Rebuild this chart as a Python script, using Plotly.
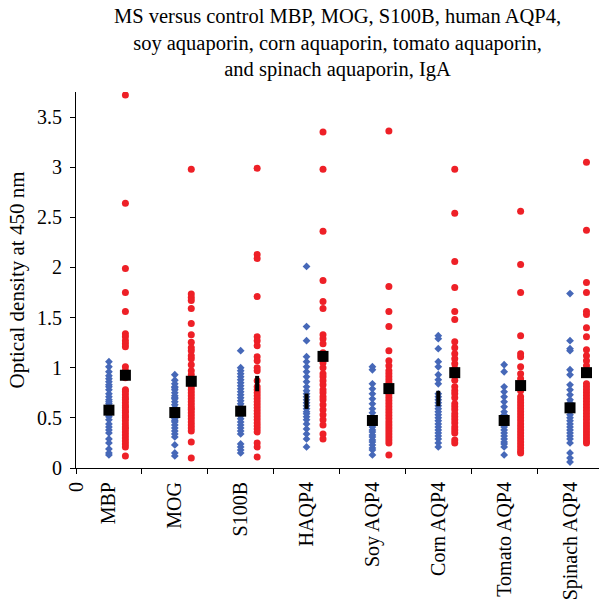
import plotly.graph_objects as go

categories = ["MBP", "MOG", "S100B", "HAQP4", "Soy AQP4", "Corn AQP4", "Tomato AQP4", "Spinach AQP4"]

control = [
    [1.06,1.01,0.96,0.92,0.89,0.86,0.83,0.81,0.78,0.74,0.71,0.68,0.66,0.64,0.61,0.58,0.55,0.53,0.51,0.48,0.44,0.41,0.38,0.35,0.29,0.25,0.19,0.15,0.13],
    [0.93,0.875,0.84,0.81,0.80,0.78,0.75,0.72,0.70,0.69,0.66,0.63,0.60,0.58,0.57,0.55,0.52,0.49,0.47,0.46,0.43,0.40,0.37,0.34,0.31,0.23,0.15,0.12],
    [1.17,1.00,0.97,0.94,0.91,0.88,0.85,0.82,0.79,0.76,0.73,0.70,0.67,0.64,0.61,0.58,0.55,0.52,0.49,0.46,0.43,0.40,0.37,0.34,0.24,0.21,0.18,0.15],
    [2.01,1.41,1.27,1.11,1.06,1.01,0.96,0.91,0.86,0.81,0.77,0.74,0.71,0.68,0.65,0.62,0.59,0.56,0.54,0.51,0.48,0.44,0.39,0.34,0.29,0.21],
    [1.01,0.98,0.84,0.79,0.74,0.69,0.64,0.59,0.55,0.51,0.48,0.46,0.43,0.41,0.38,0.36,0.33,0.31,0.28,0.26,0.23,0.20,0.18,0.13],
    [1.32,1.29,1.19,1.06,1.01,0.93,0.88,0.84,0.74,0.71,0.68,0.65,0.62,0.59,0.56,0.53,0.50,0.47,0.44,0.41,0.38,0.35,0.32,0.29,0.25,0.21],
    [1.03,0.96,0.81,0.76,0.71,0.66,0.61,0.56,0.53,0.50,0.47,0.44,0.41,0.38,0.35,0.32,0.29,0.26,0.24,0.21,0.13],
    [1.74,1.27,1.19,1.17,0.98,0.93,0.83,0.78,0.73,0.68,0.65,0.62,0.59,0.56,0.53,0.50,0.47,0.44,0.41,0.38,0.35,0.32,0.29,0.25,0.15,0.10,0.06],
]

ms = [
    [3.72,2.64,1.99,1.75,1.56,1.34,1.31,1.27,1.24,1.21,1.01,0.97,0.93,0.90,0.78,0.76,0.73,0.70,0.68,0.65,0.62,0.60,0.57,0.55,0.52,0.50,0.47,0.44,0.41,0.39,0.36,0.33,0.30,0.27,0.24,0.21,0.12],
    [2.98,1.735,1.70,1.67,1.59,1.44,1.33,1.255,1.20,1.17,1.12,1.09,1.03,0.97,0.93,0.84,0.81,0.78,0.75,0.72,0.69,0.66,0.63,0.60,0.58,0.55,0.52,0.49,0.46,0.43,0.40,0.37,0.26,0.10],
    [2.99,2.13,2.09,1.71,1.31,1.27,1.22,1.11,1.07,1.00,0.97,0.87,0.81,0.78,0.75,0.72,0.69,0.66,0.63,0.60,0.57,0.54,0.51,0.48,0.45,0.42,0.39,0.36,0.25,0.21,0.11],
    [3.35,2.98,2.36,1.87,1.66,1.59,1.33,1.29,1.24,1.15,1.05,1.00,0.94,0.91,0.87,0.83,0.78,0.75,0.71,0.68,0.63,0.58,0.53,0.48,0.43,0.34,0.29],
    [3.36,1.81,1.56,1.41,1.17,1.07,1.02,0.97,0.94,0.91,0.88,0.85,0.82,0.79,0.76,0.73,0.70,0.67,0.64,0.61,0.58,0.55,0.52,0.49,0.46,0.43,0.40,0.37,0.34,0.31,0.28,0.25,0.13],
    [2.98,2.54,2.06,1.80,1.56,1.48,1.26,1.20,1.14,1.09,1.04,0.99,0.875,0.81,0.77,0.74,0.70,0.64,0.61,0.58,0.54,0.51,0.48,0.45,0.41,0.38,0.35,0.28,0.25],
    [2.56,2.03,1.75,1.32,1.14,1.11,1.01,0.94,0.89,0.84,0.77,0.71,0.68,0.65,0.62,0.59,0.56,0.53,0.50,0.47,0.44,0.41,0.38,0.35,0.32,0.29,0.26,0.23,0.20,0.17,0.15],
    [3.05,2.37,1.85,1.75,1.56,1.53,1.40,1.31,1.18,1.12,1.07,1.02,0.84,0.81,0.78,0.75,0.72,0.69,0.66,0.63,0.60,0.57,0.54,0.51,0.48,0.45,0.42,0.39,0.36,0.33,0.30,0.27,0.25],
]

control_mean = [0.577, 0.553, 0.567, 0.666, 0.474, 0.693, 0.474, 0.600]
ms_mean = [0.925, 0.865, 0.842, 1.113, 0.792, 0.951, 0.822, 0.951]
# means partly covered by the dots in the original (drawn as narrow bars)
control_mean_covered = [False, False, False, True, False, True, False, False]
ms_mean_covered = [False, False, True, False, False, False, False, False]

y_ticks = [0, 0.5, 1, 1.5, 2, 2.5, 3, 3.5]

CTRL_OFF = 0.5
MS_OFF = 0.75
BLUE = "#4668B8"
RED = "#EE2027"
FONT = "Liberation Serif"

W, H = 599, 607
ML, MR, MT, MB = 76, 0, 92, 139
PLOT_H = H - MT - MB

cx, cy, mx, my = [], [], [], []
for i, vals in enumerate(control):
    cx += [i + CTRL_OFF] * len(vals)
    cy += vals
for i, vals in enumerate(ms):
    mx += [i + MS_OFF] * len(vals)
    my += vals

fig = go.Figure()
fig.add_trace(go.Scatter(x=cx, y=cy, mode="markers", name="Control",
                         marker=dict(symbol="diamond", size=6, color=BLUE), showlegend=False))
fig.add_trace(go.Scatter(x=mx, y=my, mode="markers", name="MS",
                         marker=dict(symbol="circle", size=7, color=RED), showlegend=False))

sq_x, sq_y, bar_x, bar_y = [], [], [], []
for i in range(len(categories)):
    for off, mean, cov in ((CTRL_OFF, control_mean[i], control_mean_covered[i]),
                           (MS_OFF, ms_mean[i], ms_mean_covered[i])):
        if cov:
            bar_x.append(i + off); bar_y.append(mean)
        else:
            sq_x.append(i + off); sq_y.append(mean)

fig.add_trace(go.Scatter(x=sq_x, y=sq_y, mode="markers", showlegend=False,
                         marker=dict(symbol="square", size=11, color="black")))
fig.add_trace(go.Scatter(x=bar_x, y=bar_y, mode="markers", showlegend=False,
                         marker=dict(symbol="line-ns", size=11, color="black",
                                     line=dict(width=4, color="black"))))
# helper trace for the tick-mark axis
fig.add_trace(go.Scatter(x=[0], y=[0], xaxis="x2", mode="markers", showlegend=False,
                         marker=dict(opacity=0), hoverinfo="skip"))

title_text = ("MS versus control MBP, MOG, S100B, human AQP4,<br>"
              "soy aquaporin, corn aquaporin, tomato aquaporin,<br>"
              "and spinach aquaporin, IgA")

n = len(categories)
fig.update_layout(
    width=W, height=H,
    margin=dict(l=ML, r=MR, t=MT, b=MB, autoexpand=False),
    paper_bgcolor="white", plot_bgcolor="white",
    font=dict(family=FONT, size=20, color="black"),
    xaxis=dict(range=[0, 7.94], tickmode="array",
               tickvals=[0] + [i + 0.5 for i in range(n)],
               ticktext=["0"] + categories, automargin=False,
               tickangle=-90, ticks="", ticklabelstandoff=5,
               showgrid=False, zeroline=False,
               showline=True, linecolor="black", linewidth=1,
               tickfont=dict(family=FONT, size=20)),
    xaxis2=dict(range=[0, 7.94], overlaying="x", side="bottom", anchor="y",
                tickmode="array", tickvals=list(range(n + 1)), ticktext=[""] * (n + 1),
                ticks="outside", ticklen=5, tickcolor="black", showgrid=False,
                zeroline=False, showline=False, automargin=False),
    yaxis=dict(range=[0, 3.75], tickmode="array", tickvals=y_ticks, automargin=False,
               ticks="outside", ticklen=5, tickcolor="black", ticklabelstandoff=4,
               showgrid=False, zeroline=False, showline=True, linecolor="black", linewidth=1,
               tickfont=dict(family=FONT, size=20),
               title=dict(text="Optical density at 450 nm", font=dict(family=FONT, size=21), standoff=6)),
    annotations=[dict(text=title_text, xref="paper", yref="paper", x=0.5,
                      y=1 + (MT - 3) / PLOT_H, xanchor="center", yanchor="top",
                      showarrow=False, align="center",
                      font=dict(family=FONT, size=20.5, color="black"))],
)

fig.write_html("out.html", config={"displayModeBar": False},
               post_script="document.body.style.margin='0';document.body.style.overflow='hidden';")
